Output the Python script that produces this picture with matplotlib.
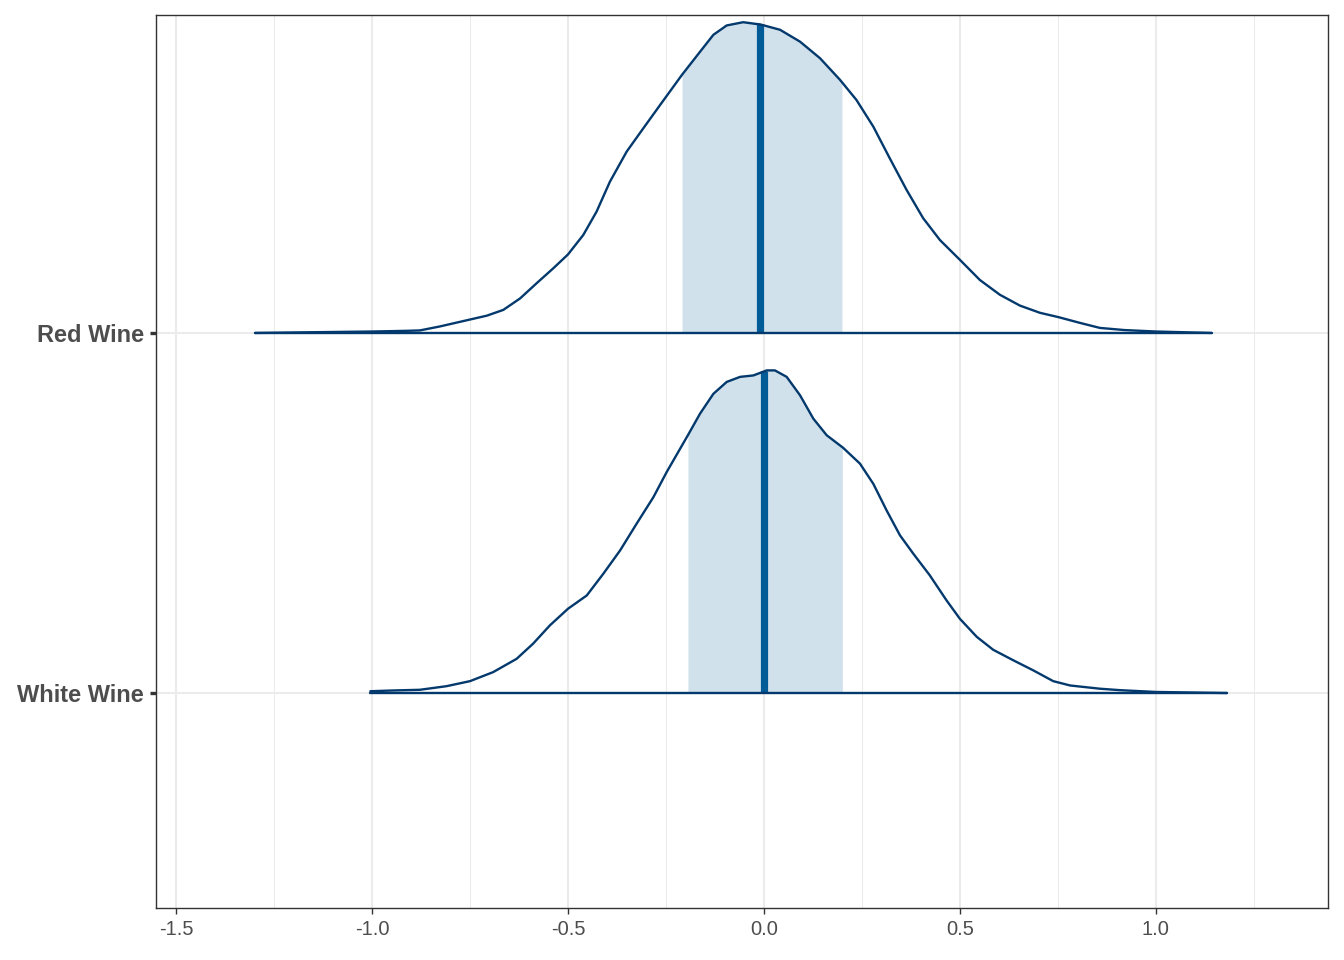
import numpy as np
import matplotlib
matplotlib.use("Agg")
import matplotlib.pyplot as plt

plt.rcParams['font.family'] = ['Liberation Sans', 'DejaVu Sans']

# ---- data ----
params = ["Red Wine", "White Wine"]

red_x = [-1.298, -1.0, -0.95, -0.909, -0.878, -0.827, -0.767, -0.707, -0.665, -0.622,
         -0.580, -0.537, -0.5, -0.461, -0.427, -0.393, -0.350, -0.308, -0.265, -0.209,
         -0.163, -0.129, -0.095, -0.053, -0.019, -0.010, 0.041, 0.092, 0.143, 0.194,
         0.236, 0.279, 0.321, 0.364, 0.406, 0.449, 0.5, 0.551, 0.602, 0.653, 0.704,
         0.751, 0.806, 0.857, 0.92, 1.0, 1.142]
red_d = [0.0, 0.004, 0.005, 0.006, 0.007, 0.018, 0.033, 0.048, 0.064, 0.096,
         0.138, 0.180, 0.218, 0.272, 0.337, 0.420, 0.504, 0.568, 0.633, 0.717,
         0.781, 0.828, 0.854, 0.863, 0.858, 0.857, 0.842, 0.809, 0.763, 0.703,
         0.647, 0.573, 0.485, 0.397, 0.319, 0.258, 0.203, 0.147, 0.106, 0.076, 0.056,
         0.044, 0.028, 0.014, 0.008, 0.004, 0.0]

white_x = [-1.004, -0.95, -0.878, -0.810, -0.75, -0.691, -0.631, -0.589, -0.546, -0.5,
           -0.452, -0.410, -0.367, -0.325, -0.282, -0.248, -0.194, -0.163, -0.129, -0.095,
           -0.061, -0.027, -0.010, 0.007, 0.028, 0.058, 0.092, 0.126, 0.160, 0.202,
           0.245, 0.279, 0.313, 0.347, 0.381, 0.423, 0.466, 0.5, 0.543, 0.585, 0.636,
           0.687, 0.738, 0.781, 0.857, 0.908, 1.0, 1.181]
white_d = [0.005, 0.007, 0.009, 0.019, 0.033, 0.058, 0.095, 0.137, 0.188, 0.234,
           0.271, 0.331, 0.396, 0.470, 0.544, 0.614, 0.716, 0.776, 0.831, 0.864,
           0.878, 0.882, 0.889, 0.896, 0.896, 0.878, 0.827, 0.762, 0.716, 0.681,
           0.637, 0.581, 0.507, 0.438, 0.387, 0.327, 0.257, 0.206, 0.156, 0.120, 0.091,
           0.063, 0.033, 0.021, 0.012, 0.008, 0.003, 0.0]

medians = [-0.01, 0.0]
ci_low = [-0.209, -0.194]
ci_high = [0.199, 0.200]

xticks = [-1.5, -1.0, -0.5, 0.0, 0.5, 1.0]
xticklabels = ["-1.5", "-1.0", "-0.5", "0.0", "0.5", "1.0"]

# ---- styling ----
fill_col = "#d1e1ec"
line_col = "#03396c"
med_col = "#005b96"
grid_col = "#ebebeb"
text_col = "#4d4d4d"

fig = plt.figure(figsize=(13.44, 9.6), dpi=100)
ax = fig.add_axes([156/1344, 1 - 908/960, (1328-156)/1344, (908-15)/960])

ax.set_xlim(-1.551, 1.439)
ax.set_ylim(0.403, 2.883)

# grid
for v in np.arange(-1.5, 1.5, 0.25):
    major = abs(v*2 - round(v*2)) < 1e-9
    ax.axvline(v, color=grid_col, lw=1.5 if major else 0.75, zorder=0)
for yy in [2, 1]:
    ax.axhline(yy, color=grid_col, lw=1.5, zorder=0)

curves = [(red_x, red_d), (white_x, white_d)]
bases = [2, 1]
for (cx, cd), base, med, lo, hi in zip(curves, bases, medians, ci_low, ci_high):
    cx = np.array(cx); cd = np.array(cd)
    inside = (cx > lo) & (cx < hi)
    sx = np.concatenate([[lo], cx[inside], [hi]])
    sd = np.concatenate([[np.interp(lo, cx, cd)], cd[inside], [np.interp(hi, cx, cd)]])
    ax.fill_between(sx, base, base + sd, color=fill_col, lw=0, zorder=1)
    mh = np.interp(med, cx, cd)
    ax.plot([med, med], [base, base + mh], color=med_col, lw=5.2, zorder=2,
            solid_capstyle='butt')
    ax.plot(cx, base + cd, color=line_col, lw=1.7, zorder=3,
            solid_capstyle='round', solid_joinstyle='round')
    ax.plot([cx[0], cx[-1]], [base, base], color=line_col, lw=1.7, zorder=3,
            solid_capstyle='round')

ax.set_xticks(xticks)
ax.set_xticklabels(xticklabels)
ax.set_yticks(bases)
ax.set_yticklabels(params, fontweight='bold')

ax.tick_params(axis='x', colors='#333333', length=4.5, width=1.0, labelsize=14.5,
               labelcolor=text_col, pad=4)
ax.tick_params(axis='y', colors='#333333', length=4.5, width=2.4, labelsize=17,
               labelcolor=text_col, pad=4)
for s in ax.spines.values():
    s.set_color('#333333')
    s.set_linewidth(1.0)

fig.savefig("out.png", dpi=100)
